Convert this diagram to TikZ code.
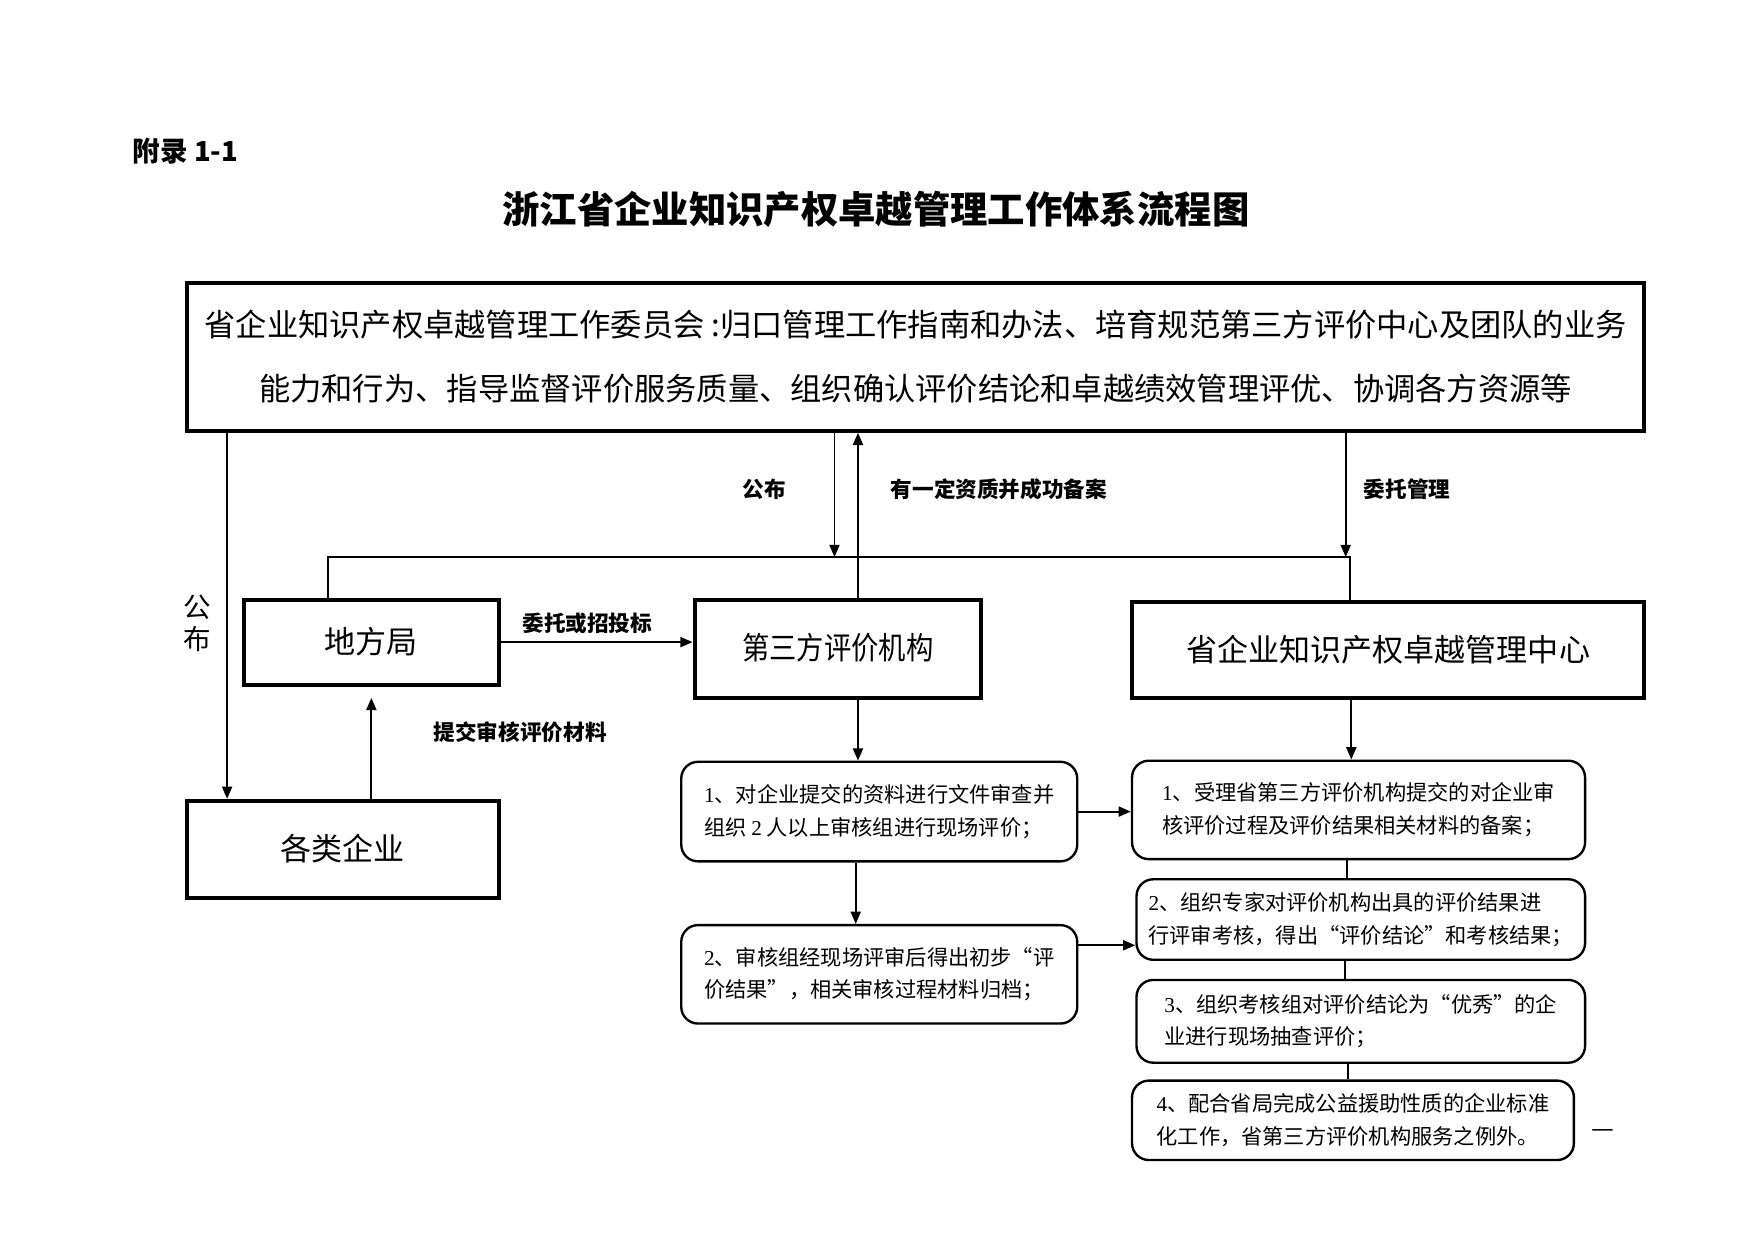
\documentclass[tikz,border=0pt]{standalone}
\usepackage{fontspec}
\usepackage{graphicx}
\setmainfont{Noto Sans CJK SC}
\newfontfamily\tnr{Liberation Serif}
\usetikzlibrary{arrows.meta,calc}
\tikzset{
  thickbox/.style={draw, line width=1.05pt, inner sep=0pt, align=center},
  rbox/.style={draw, line width=0.6pt, rounded corners=1.5mm, inner sep=0pt, align=left,
    font=\fontsize{5.4pt}{8.25pt}\selectfont},
  conn/.style={line width=0.5pt},
  arr/.style={conn, -{Triangle[length=1.1mm,width=0.9mm]}},
  lbl/.style={font=\bfseries\fontsize{5.5pt}{6pt}\selectfont, inner sep=0pt},
  bigtxt/.style={font=\fontsize{7.9pt}{9pt}\selectfont},
}
\begin{document}
\begin{tikzpicture}[x=0.1mm,y=-0.1mm]
\path[use as bounding box, fill=white] (0,0) rectangle (1568,1109);

% headings
\node[anchor=west, inner sep=0pt, font=\bfseries\fontsize{7pt}{8pt}\selectfont] (appx) at (118,135) {附录 1-1};
\node[inner sep=0pt, font=\bfseries\fontsize{9.5pt}{10pt}\selectfont] (title) at (783,187) {浙江省企业知识产权卓越管理工作体系流程图};

% main boxes
\node[thickbox, minimum width=130.3mm, minimum height=13.2mm,
  font=\fontsize{7.95pt}{16.2pt}\selectfont] (top) at (818.5,319)
  {省企业知识产权卓越管理工作委员会 :归口管理工作指南和办法、培育规范第三方评价中心及团队的业务\\
   能力和行为、指导监督评价服务质量、组织确认评价结论和卓越绩效管理评优、协调各方资源等};

\node[thickbox, bigtxt, minimum width=22.8mm, minimum height=7.6mm] (dfj) at (332,574) {地方局};
\node[thickbox, bigtxt, minimum width=25.6mm, minimum height=8.8mm] (dsf) at (749,580) {\raisebox{1.2pt}{\scalebox{0.88}[1]{第三方评价机构}}};
\node[thickbox, bigtxt, minimum width=45.8mm, minimum height=8.6mm] (zx) at (1241,581) {\raisebox{1.0pt}{省企业知识产权卓越管理中心}};
\node[thickbox, bigtxt, minimum width=27.9mm, minimum height=8.7mm] (qy) at (306.5,759.5) {\raisebox{1.2pt}{各类企业}};

% rounded boxes
\node[rbox, minimum width=35.4mm, minimum height=8.9mm] (L1) at (786,725.5)
  {{\tnr 1}、对企业提交的资料进行文件审查并\\组织 {\tnr 2} 人以上审核组进行现场评价；};
\node[rbox, minimum width=35.4mm, minimum height=8.8mm] (L2) at (786,871)
  {{\tnr 2}、审核组经现场评审后得出初步“评\\价结果”，相关审核过程材料归档；};
\node[rbox, minimum width=40.5mm, minimum height=8.8mm] (R1) at (1214.5,724)
  {{\tnr 1}、受理省第三方评价机构提交的对企业审\\核评价过程及评价结果相关材料的备案；};
\node[rbox, minimum width=40.1mm, minimum height=7.2mm] (R2) at (1216.5,822)
  {{\tnr 2}、组织专家对评价机构出具的评价结果进\\行评审考核，得出“评价结论”和考核结果；};
\node[rbox, minimum width=40.1mm, minimum height=7.4mm] (R3) at (1216.5,913)
  {{\tnr 3}、组织考核组对评价结论为“优秀”的企\\业进行现场抽查评价；};
\node[rbox, minimum width=39.5mm, minimum height=7.1mm] (R4) at (1209.5,1001.5)
  {{\tnr 4}、配合省局完成公益援助性质的企业标准\\化工作，省第三方评价机构服务之例外。};

% labels
\node[lbl] (lb1) at (683,437) {公布};
\node[lbl] (lb2) at (893,437) {有一定资质并成功备案};
\node[lbl] (lb3) at (1258,437) {委托管理};
\node[lbl] (lb4) at (525,557) {委托或招投标};
\node[lbl] (lb5) at (465,655) {提交审核评价材料};
\node[inner sep=0pt, align=center, font=\fontsize{7pt}{8.2pt}\selectfont] (lb6) at (176,557) {公\\布};
\node[inner sep=0pt, font=\fontsize{6.5pt}{7pt}\selectfont] (dash) at (1433,1013) {—};

% helper coordinates
\coordinate (bus) at (0,498);
\coordinate (xa) at (203,0);
\coordinate (xb) at (293,0);
\coordinate (xc) at (746,0);
\coordinate (xd) at (767,0);
\coordinate (xe) at (1203,0);
\coordinate (xf) at (1207,0);
\coordinate (xg) at (332,0);
\coordinate (xh) at (765,0);
\coordinate (xi) at (1208,0);
\coordinate (xj) at (1204,0);
\coordinate (xk) at (1202,0);
\coordinate (xl) at (1205,0);
\coordinate (ya) at (0,845);

% connectors
\draw[arr] (xa |- top.south) -- (xa |- qy.north);
\draw[arr] (xc |- top.south) -- (xc |- bus);
\draw[arr] (xd |- dsf.north) -- (xd |- top.south);
\draw[arr] (xe |- top.south) -- (xe |- bus);
\draw[conn] (xb |- dfj.north) -- (xb |- bus) -- (xf |- bus) -- (xf |- zx.north);
\draw[arr] (dfj.east) -- (dfj.east -| dsf.west);
\draw[arr, shorten >=1mm] (xg |- qy.north) -- (xg |- dfj.south);
\draw[arr] (xd |- dsf.south) -- (xd |- L1.north);
\draw[arr] (xh |- L1.south) -- (xh |- L2.north);
\draw[arr] (L1.east) -- (L1.east -| R1.west);
\draw[arr] (L2.east |- ya) -- (R2.west |- ya);
\draw[arr] (xi |- zx.south) -- (xi |- R1.north);
\draw[conn] (xj |- R1.south) -- (xj |- R2.north);
\draw[conn] (xk |- R2.south) -- (xk |- R3.north);
\draw[conn] (xl |- R3.south) -- (xl |- R4.north);
\end{tikzpicture}
\end{document}
